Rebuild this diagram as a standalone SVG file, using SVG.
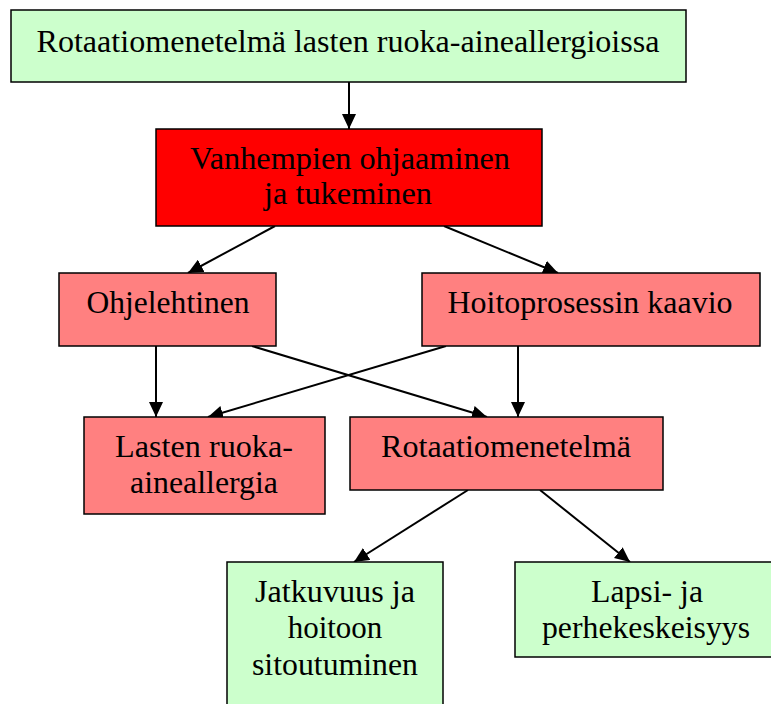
<svg xmlns="http://www.w3.org/2000/svg" width="771" height="704" viewBox="0 0 771 704">
<style>
.box{stroke:#000;stroke-width:1.5}
.g{fill:#CCFFCC}.r{fill:#FF0000}.p{fill:#FF8080}
text{font-family:"Liberation Serif","Times New Roman",serif;font-size:31px;fill:#000;text-anchor:middle}
.e{stroke:#000;stroke-width:2;fill:none;marker-end:url(#ah)}
</style>
<defs>
<marker id="ah" markerUnits="userSpaceOnUse" markerWidth="16" markerHeight="14" refX="15" refY="7" orient="auto">
<path d="M0,0 L15,7 L0,14 Z" fill="#000"/>
</marker>
</defs>
<g id="connectors">
<line class="e" x1="349" y1="82" x2="349" y2="129"/>
<line class="e" x1="275" y1="226" x2="188" y2="273"/>
<line class="e" x1="444" y1="226" x2="558" y2="273"/>
<line class="e" x1="156" y1="346" x2="156" y2="417"/>
<line class="e" x1="252" y1="346" x2="487" y2="417"/>
<line class="e" x1="446" y1="346" x2="208" y2="417"/>
<line class="e" x1="518" y1="346" x2="518" y2="417"/>
<line class="e" x1="468" y1="490" x2="354" y2="562"/>
<line class="e" x1="540" y1="490" x2="630" y2="562"/>
</g>
<g id="n1"><rect class="box g" x="11" y="10" width="675" height="72"/>
<text x="348" y="52" textLength="623" lengthAdjust="spacingAndGlyphs">Rotaatiomenetelmä lasten ruoka-aineallergioissa</text></g>
<g id="n2"><rect class="box r" x="156" y="129" width="386" height="97"/>
<text x="350" y="169" textLength="320" lengthAdjust="spacingAndGlyphs">Vanhempien ohjaaminen</text>
<text x="348" y="204" textLength="168" lengthAdjust="spacingAndGlyphs">ja tukeminen</text></g>
<g id="n3"><rect class="box p" x="59" y="273" width="217" height="73"/>
<text x="168" y="313" textLength="163" lengthAdjust="spacingAndGlyphs">Ohjelehtinen</text></g>
<g id="n4"><rect class="box p" x="422" y="273" width="338" height="73"/>
<text x="590" y="313" textLength="285" lengthAdjust="spacingAndGlyphs">Hoitoprosessin kaavio</text></g>
<g id="n5"><rect class="box p" x="84" y="417" width="241" height="97"/>
<text x="204" y="457" textLength="178" lengthAdjust="spacingAndGlyphs">Lasten ruoka-</text>
<text x="204" y="493" textLength="148" lengthAdjust="spacingAndGlyphs">aineallergia</text></g>
<g id="n6"><rect class="box p" x="350" y="417" width="313" height="73"/>
<text x="506" y="457" textLength="250" lengthAdjust="spacingAndGlyphs">Rotaatiomenetelmä</text></g>
<g id="n7"><rect class="box g" x="227" y="562" width="216" height="150"/>
<text x="335" y="602" textLength="160" lengthAdjust="spacingAndGlyphs">Jatkuvuus ja</text>
<text x="335" y="638">hoitoon</text>
<text x="335" y="675" textLength="166" lengthAdjust="spacingAndGlyphs">sitoutuminen</text></g>
<g id="n8"><rect class="box g" x="515" y="562" width="262" height="95"/>
<text x="647" y="602" textLength="112" lengthAdjust="spacingAndGlyphs">Lapsi- ja</text>
<text x="646" y="638" textLength="208" lengthAdjust="spacingAndGlyphs">perhekeskeisyys</text></g>
</svg>
